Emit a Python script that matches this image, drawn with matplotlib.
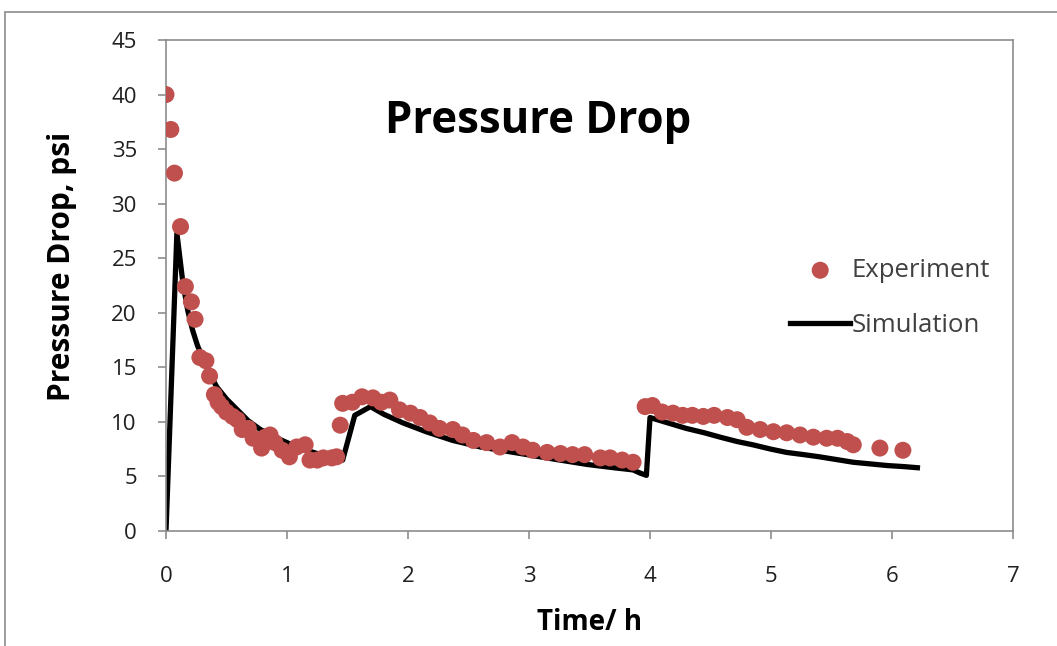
import matplotlib
matplotlib.use("Agg")
import matplotlib.pyplot as plt
from matplotlib.patches import Rectangle

# Experimental data (time in h, pressure drop in psi)
exp_time = [0.00, 0.04, 0.07, 0.12, 0.16, 0.21, 0.24, 0.28, 0.33, 0.36, 0.40, 0.43, 0.46,
            0.50, 0.55, 0.59, 0.63, 0.68, 0.72, 0.79, 0.82, 0.86, 0.90, 0.96, 1.02, 1.08,
            1.15, 1.19, 1.25, 1.30, 1.37, 1.41, 1.44, 1.46, 1.54, 1.62, 1.71, 1.78, 1.85,
            1.93, 2.02, 2.10, 2.18, 2.26, 2.37, 2.45, 2.54, 2.65, 2.76, 2.86, 2.95, 3.03,
            3.15, 3.26, 3.36, 3.46, 3.59, 3.67, 3.77, 3.86, 3.96, 4.02, 4.10, 4.19, 4.27,
            4.35, 4.44, 4.53, 4.64, 4.72, 4.80, 4.91, 5.02, 5.13, 5.24, 5.35, 5.46, 5.55,
            5.63, 5.68, 5.90, 6.09]
exp_dp = [40.0, 36.8, 32.8, 27.9, 22.4, 21.0, 19.4, 15.9, 15.6, 14.2, 12.5, 11.8, 11.4,
          10.9, 10.5, 10.2, 9.3, 9.4, 8.5, 7.6, 8.6, 8.8, 8.1, 7.4, 6.8, 7.7,
          7.9, 6.5, 6.5, 6.7, 6.7, 6.8, 9.7, 11.7, 11.8, 12.3, 12.2, 11.8, 12.0,
          11.1, 10.8, 10.4, 9.9, 9.4, 9.3, 8.8, 8.3, 8.1, 7.7, 8.1, 7.7, 7.4,
          7.2, 7.1, 7.0, 7.0, 6.7, 6.7, 6.5, 6.3, 11.4, 11.5, 10.9, 10.8, 10.6,
          10.6, 10.5, 10.6, 10.4, 10.2, 9.5, 9.3, 9.1, 9.0, 8.8, 8.6, 8.5, 8.5,
          8.2, 7.9, 7.6, 7.4]

# Simulation curve
sim_time = [0.00, 0.09, 0.14, 0.18, 0.22, 0.26, 0.31, 0.36, 0.42, 0.50, 0.59, 0.68, 0.78,
            0.90, 1.02, 1.13, 1.25, 1.36, 1.46,
            1.56, 1.69, 1.80, 1.96, 2.15, 2.37, 2.60, 2.93, 3.20, 3.48, 3.70, 3.86, 3.92, 3.97,
            4.00, 4.15, 4.30, 4.45, 4.58, 4.72, 4.85, 5.00, 5.13, 5.27, 5.40, 5.54, 5.68,
            5.82, 5.96, 6.10, 6.21]
sim_dp = [0.0, 27.3, 22.7, 20.2, 18.4, 17.0, 15.7, 14.4, 13.2, 12.1, 11.1, 10.1, 9.3,
          8.6, 8.0, 7.5, 7.1, 6.8, 6.5,
          10.6, 11.4, 10.7, 9.9, 9.1, 8.3, 7.7, 7.1, 6.6, 6.1, 5.8, 5.6, 5.3, 5.1,
          10.4, 9.9, 9.4, 9.0, 8.6, 8.2, 7.9, 7.5, 7.2, 7.0, 6.8, 6.55, 6.3,
          6.15, 6.0, 5.9, 5.8]

x_ticks = [0, 1, 2, 3, 4, 5, 6, 7]
y_ticks = [0, 5, 10, 15, 20, 25, 30, 35, 40, 45]

W, H = 1057, 646
fig = plt.figure(figsize=(W / 100, H / 100), dpi=100)
fig.patch.set_facecolor("white")

# outer chart border
fig.patches.append(Rectangle((5 / W, -0.1), 1.2, (H - 12) / H + 0.1,
                             transform=fig.transFigure, fill=False,
                             edgecolor="#8c8c8c", linewidth=1.2))

AX_L, AX_R, AX_T, AX_B = 166, 1013, 40, 531
ax = fig.add_axes([AX_L / W, (H - AX_B) / H, (AX_R - AX_L) / W, (AX_B - AX_T) / H])

def ax_x(px):
    return (px - AX_L) / (AX_R - AX_L)

def ax_y(py):
    return (AX_B - py) / (AX_B - AX_T)

font = "Open Sans"
ax.plot(sim_time, sim_dp, color="black", linewidth=3.8, label="Simulation", zorder=2,
        solid_joinstyle="round")
ax.scatter(exp_time, exp_dp, s=150, color="#C0504D", edgecolors="none",
           label="Experiment", zorder=3)

ax.set_xlim(0, 7)
ax.set_ylim(0, 45)
ax.set_xticks(x_ticks)
ax.set_yticks(y_ticks)
ax.set_xticklabels([str(v) for v in x_ticks], fontsize=16, family=font, color="#202020")
ax.set_yticklabels([str(v) for v in y_ticks], fontsize=16, family=font, color="#202020")

for s in ax.spines.values():
    s.set_color("#8c8c8c")
    s.set_linewidth(1.2)
ax.tick_params(axis="both", direction="out", length=6, color="#8c8c8c", width=1.2)
ax.tick_params(axis="x", pad=19)
ax.tick_params(axis="y", pad=15)

ax.set_xlabel("Time/ h", fontsize=20, fontweight="bold", family=font, labelpad=15)
ax.set_ylabel("Pressure Drop, psi", fontsize=21.5, fontweight="bold", family=font)
ax.yaxis.set_label_coords(ax_x(77), ax_y(266))

ax.text(ax_x(538), ax_y(122), "Pressure Drop",
        transform=ax.transAxes, fontsize=31.5,
        fontweight="bold", family=font, ha="center", va="center")

handles, labels = ax.get_legend_handles_labels()
leg = ax.legend(handles[::-1], labels[::-1], loc="upper left",
                bbox_to_anchor=(ax_x(790), ax_y(258)),
                frameon=False, handlelength=2.35, handletextpad=0.05,
                labelspacing=1.15, borderpad=0, borderaxespad=0,
                prop={"family": font, "size": 18.5})
for t in leg.get_texts():
    t.set_color("#404040")

fig.savefig("out.png", dpi=100)
